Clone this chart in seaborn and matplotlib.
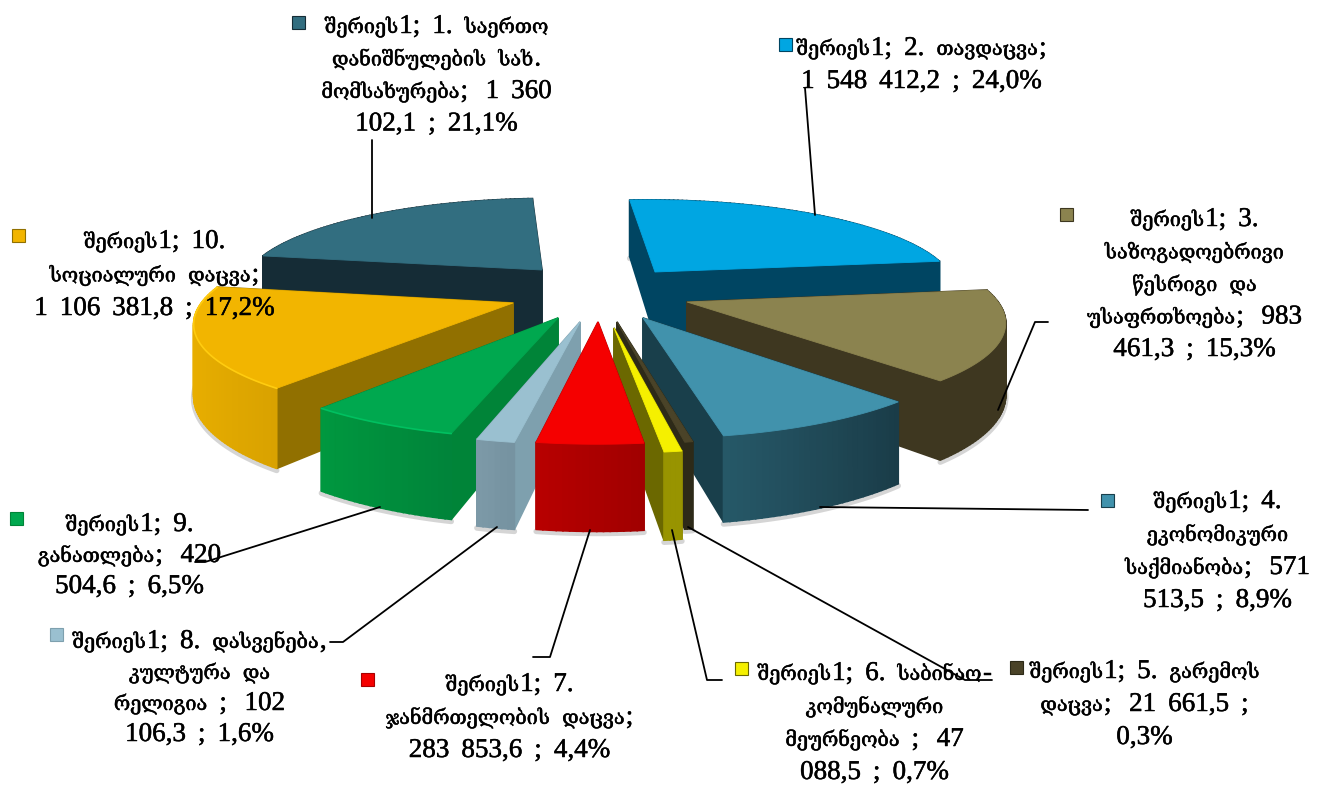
import re

import matplotlib
matplotlib.use("Agg")
import matplotlib.pyplot as plt
import matplotlib.patheffects as pe
from matplotlib.patches import Polygon, Rectangle
import numpy as np
import seaborn as sns

# budget shares, clockwise from the top of the pie
budget_values = [1548412.2, 983461.3, 571513.5, 21661.5, 47088.5,
                 283853.6, 102106.3, 420504.6, 1106381.8, 1360102.1]
label_lines = [
    ["შერიეს1;  2.  თავდაცვა;", "1  548  412,2  ;  24,0%"],
    ["შერიეს1;  3.", "საზოგადოებრივი", "წესრიგი  და", "უსაფრთხოება;   983", "461,3  ;  15,3%"],
    ["შერიეს1;  4.", "ეკონომიკური", "საქმიანობა;   571", "513,5  ;  8,9%"],
    ["შერიეს1;  5.  გარემოს", "დაცვა;   21  661,5  ;", "0,3%"],
    ["შერიეს1;  6.  საბინაო-", "კომუნალური", "მეურნეობა  ;   47", "088,5  ;  0,7%"],
    ["შერიეს1;  7.", "ჯანმრთელობის  დაცვა;", "283  853,6  ;  4,4%"],
    ["შერიეს1;  8.  დასვენება,", "კულტურა  და", "რელიგია  ;   102", "106,3  ;  1,6%"],
    ["შერიეს1;  9.", "განათლება;   420", "504,6  ;  6,5%"],
    ["შერიეს1;  10.", "სოციალური  დაცვა;", "1  106  381,8  ;  17,2%"],
    ["შერიეს1;  1.  საერთო", "დანიშნულების  სახ.", "მომსახურება;   1  360", "102,1  ;  21,1%"],
]

top_colors = ["#00a6e2", "#8b834f", "#4192ac", "#4a4328", "#f5f000",
              "#f50000", "#9ac0d0", "#00a84f", "#f2b500", "#326e80"]
radial_colors = ["#004562", "#3e3720", "#193f4b", "#2d2a18", "#6b6800",
                 "#a80000", "#7ea0ae", "#008438", "#917000", "#152c36"]
wall_left = ["#004562", "#3e3720", "#265868", "#2d2a18", "#989400",
             "#b80000", "#7d9aa8", "#00983f", "#eab000", "#152c36"]
wall_right = ["#004562", "#3e3720", "#1a3c48", "#2d2a18", "#989400",
              "#a00000", "#7592a0", "#00843a", "#d9a200", "#152c36"]
rim_colors = [None, None, None, None, None, None, None, "#00c060", "#ffcc10", None]

# where each slice's tip lands in the picture, pixels
apex_px = [(655, 272), (687, 302), (643, 318), (617, 322), (614, 328),
           (598, 322), (580, 322), (558, 318), (513, 303), (542, 270)]
draw_order = [9, 0, 1, 8, 2, 7, 6, 3, 4, 5]

# projection of the pie plane to pixels
CX, CY = 600, 300
AX_X, AX_Y, PERSP = 310, 93, 0.17
RADIUS = 1.0
HEIGHT = 69
START_ANGLE = 94

# text blocks: centre x, first line y, line step, key x, key y
text_layout = [
    (922, 47, 33, 785, 44), (1195, 218, 32.5, 1066, 214), (1218, 500, 33, 1107, 500),
    (1145, 670, 33, 1016, 667), (875, 672, 33, 741, 668), (510, 683, 33, 367, 679),
    (200, 640, 31, 56, 634), (130, 523, 31, 16, 518), (155, 240, 33.5, 18, 235),
    (437, 25, 32.5, 298, 22),
]
leaders = [
    [(805, 88), (815, 215)],
    [(1048, 322), (1035, 322), (998, 410)],
    [(1088, 510), (820, 507)],
    [(688, 527), (965, 680), (992, 680)],
    [(672, 530), (707, 680), (722, 680)],
    [(590, 530), (550, 657), (533, 657)],
    [(497, 527), (343, 642), (330, 642)],
    [(380, 507), (205, 562), (195, 562)],
    [(372, 140), (372, 218)],
]

LATIN_SIZE = 19.5
GEORGIAN_SIZE = 14.3
SPACE_PX = 5.5
INK = [pe.withStroke(linewidth=0.35, foreground="black")]


def project(x, y, z=0.0):
    s = 1.0 / (1.0 - PERSP * y)
    return CX + AX_X * x * s, CY + (AX_Y * y + z) * s


def unproject(px, py):
    u = (px - CX) / AX_X
    v = (py - CY) / AX_Y
    s = 1.0 + PERSP * v
    return u / s, v / s


def wall_quad(p0, p1):
    return [project(*p0), project(*p1), project(*p1, HEIGHT), project(*p0, HEIGHT)]


def idx_z(idx):
    return 2 + draw_order.index(idx) * 0.1


def draw_slice(ax, idx, theta1, theta2):
    ox, oy = unproject(*apex_px[idx])
    thetas = np.radians(np.linspace(theta1, theta2, max(4, int(theta2 - theta1) + 2)))
    arc = [(ox + RADIUS * np.cos(t), oy - RADIUS * np.sin(t)) for t in thetas]
    apex = (ox, oy)

    # walls go back to front so the nearer ones cover the farther ones
    walls = [(apex[1] + arc[0][1], wall_quad(apex, arc[0]), radial_colors[idx]),
             (apex[1] + arc[-1][1], wall_quad(apex, arc[-1]), radial_colors[idx])]
    left = np.array(matplotlib.colors.to_rgb(wall_left[idx]))
    right = np.array(matplotlib.colors.to_rgb(wall_right[idx]))
    xs = [p[0] for p in arc]
    for a, b in zip(arc[:-1], arc[1:]):
        f = ((a[0] + b[0]) / 2 - min(xs)) / max(max(xs) - min(xs), 1e-6)
        walls.append((a[1] + b[1], wall_quad(a, b), tuple(left + (right - left) * f)))

    # soft shadow under the outer edge
    bottom = [project(*p, HEIGHT) for p in arc]
    ax.plot([p[0] for p in bottom], [p[1] + 2 for p in bottom], color="#888888",
            lw=4, alpha=0.35, solid_capstyle="round", zorder=idx_z(idx))

    for _, quad, color in sorted(walls, key=lambda w: w[0]):
        ax.add_patch(Polygon(quad, closed=True, fc=color, ec=color, lw=1.2, zorder=idx_z(idx)))

    top = [project(*apex)] + [project(*p) for p in arc]
    ax.add_patch(Polygon(top, closed=True, fc=top_colors[idx], ec=top_colors[idx],
                         lw=0.6, zorder=idx_z(idx)))
    if rim_colors[idx]:
        ax.plot([p[0] for p in top[1:]], [p[1] for p in top[1:]], color=rim_colors[idx],
                lw=1.2, zorder=idx_z(idx))


def draw_line(ax, renderer, line, cx, cy):
    # Georgian comes out too wide next to the digits, so each run gets its own size
    runs = re.findall(r"[\u10a0-\u10ff]+|[^\u10a0-\u10ff\s]+|\s+", line)
    placed = []
    total = 0.0
    for run in runs:
        if run.isspace():
            placed.append((None, SPACE_PX * len(run)))
            total += SPACE_PX * len(run)
            continue
        size = GEORGIAN_SIZE if re.match(r"[\u10a0-\u10ff]", run) else LATIN_SIZE
        t = ax.text(0, cy + 8, run, ha="left", va="baseline", fontsize=size,
                    color="black", zorder=6, path_effects=INK)
        width = t.get_window_extent(renderer).width + 1
        placed.append((t, width))
        total += width
    x = cx - total / 2
    for t, width in placed:
        if t is not None:
            t.set_x(x)
        x += width


def main():
    sns.set_theme(style="white")
    plt.rcParams["font.family"] = ["Liberation Serif", "DejaVu Serif", "DejaVu Sans"]

    fig = plt.figure(figsize=(13.27, 7.85), dpi=100)
    ax = fig.add_axes([0, 0, 1, 1])

    # the pie gives the slice angles, the projection gives the 3D look
    wedges, _ = ax.pie(budget_values, startangle=START_ANGLE, counterclock=False)
    angles = [(w.theta1, w.theta2) for w in wedges]
    for w in wedges:
        w.remove()

    ax.set_aspect("auto")
    ax.set_xlim(0, 1327)
    ax.set_ylim(785, 0)
    ax.axis("off")

    for idx in draw_order:
        draw_slice(ax, idx, *angles[idx])

    for pts in leaders:
        ax.plot([p[0] for p in pts], [p[1] for p in pts], color="black", lw=1.3, zorder=4)

    renderer = fig.canvas.get_renderer()
    for idx, (lines, (tx, ty, step, kx, ky)) in enumerate(zip(label_lines, text_layout)):
        ax.add_patch(Rectangle((kx - 6.5, ky - 6.5), 13, 13, fc=top_colors[idx],
                               ec=radial_colors[idx], lw=0.8, zorder=5))
        for n, line in enumerate(lines):
            draw_line(ax, renderer, line, tx, ty + n * step)

    fig.savefig("out.png", dpi=100)
    plt.close(fig)


if __name__ == "__main__":
    main()
